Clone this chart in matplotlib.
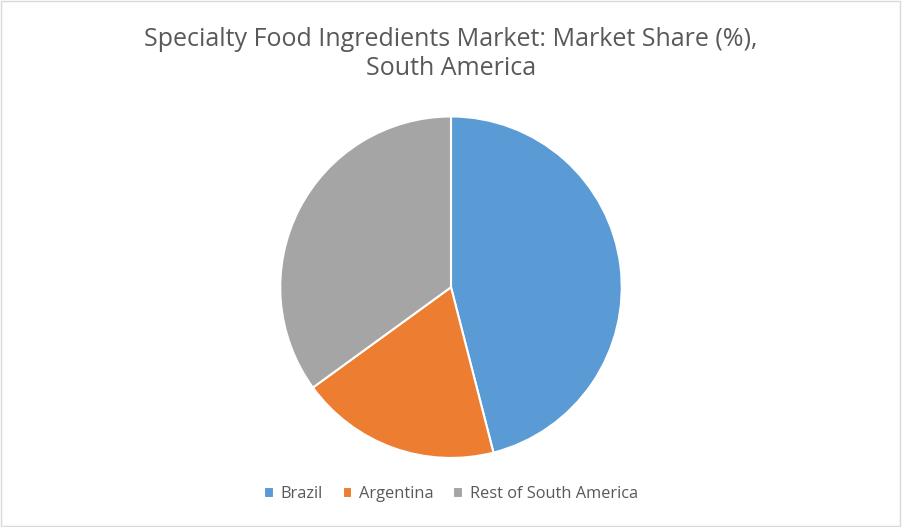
import matplotlib
matplotlib.use("Agg")
import matplotlib.pyplot as plt
from matplotlib.patches import Rectangle

categories = ["Brazil", "Argentina", "Rest of South America"]
shares = [46, 19, 35]
colors = ["#5B9BD5", "#ED7D31", "#A5A5A5"]

plt.rcParams['font.family'] = ['Open Sans', 'DejaVu Sans']
fig = plt.figure(figsize=(9.02, 5.27), dpi=100)
fig.patches.append(Rectangle((0.001, 0.002), 0.997, 0.996, transform=fig.transFigure,
                             fill=False, edgecolor="#D9D9D9", linewidth=1))
ax = fig.add_axes([0.1, 0.05, 0.8, 0.81])
wedges, _ = ax.pie(shares, colors=colors, startangle=90, counterclock=False,
                   wedgeprops=dict(edgecolor="white", linewidth=1.5))
ax.set_aspect("equal")
fig.text(0.5, 0.898, "Specialty Food Ingredients Market: Market Share (%),\nSouth America",
         ha="center", va="center", fontsize=18, color="#595959", linespacing=1.2)
fig.legend(wedges, categories, loc="center", bbox_to_anchor=(0.5, 0.062), ncol=3,
           frameon=False, fontsize=11.8, handlelength=0.6, handleheight=0.6,
           columnspacing=1.2, handletextpad=0.4, labelcolor="#595959")
fig.savefig("out.png", dpi=100)
